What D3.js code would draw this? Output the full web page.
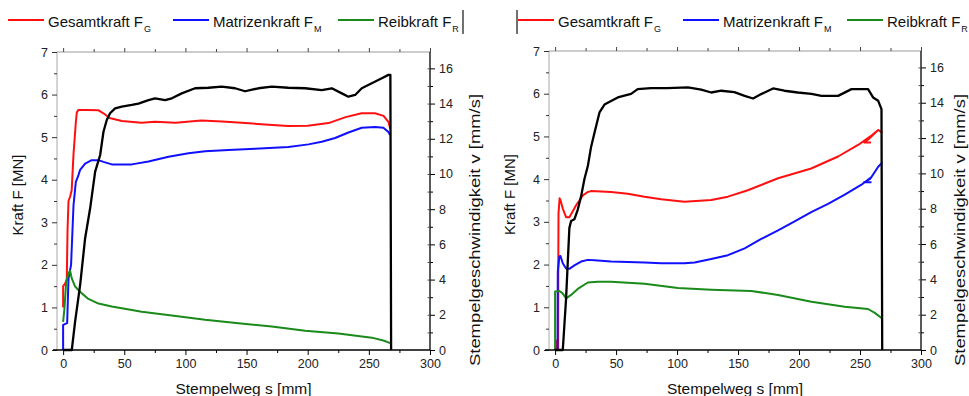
<!DOCTYPE html>
<html>
<head>
<meta charset="utf-8">
<script src="https://cdn.jsdelivr.net/npm/d3@7"></script>
<style>
  html, body { margin: 0; padding: 0; background: #ffffff; }
  svg { display: block; font-family: "Liberation Sans", Arial, sans-serif; }
  .tick text { fill: #222; }
</style>
</head>
<body>
<svg id="chart" width="969" height="396"></svg>
<script>
// Versuch A (links): Stempelweg s [mm] vs. Kraft F [MN]
const gesamtA = [[0,1.0],[0,1.5],[1.5,1.55],[3,1.65],[3.6,2.8],[4.4,3.5],[5.7,3.6],[7,3.75],[8.5,4.6],[10.4,5.35],[11.2,5.58],[12.5,5.64],[20,5.64],[29,5.63],[33,5.56],[38,5.45],[48,5.38],[64,5.34],[75,5.36],[92,5.34],[113,5.39],[130,5.37],[146,5.34],[168,5.29],[184,5.26],[200,5.27],[217,5.33],[231,5.47],[244,5.56],[255,5.56],[262,5.5],[266,5.36],[267.5,5.2]];
const matrizeA = [[0,0],[0,0.59],[3.3,0.63],[4.4,1.68],[6.5,2.0],[8.5,3.4],[10.4,3.95],[12.1,4.07],[13.9,4.23],[18,4.38],[23.4,4.46],[28.9,4.46],[33,4.42],[39.8,4.36],[56.2,4.36],[69.8,4.43],[86.2,4.54],[102.5,4.62],[116.1,4.67],[135.2,4.7],[157,4.73],[184.2,4.77],[200.6,4.83],[211.5,4.89],[222.4,4.98],[233.3,5.11],[244.2,5.22],[255.1,5.24],[261.9,5.22],[266,5.12],[267.4,5.05]];
const reibA = [[0,0.66],[1.1,0.98],[2.5,1.6],[4.4,1.8],[5.7,1.86],[7.1,1.68],[9.8,1.49],[12.5,1.41],[15.3,1.33],[20.7,1.2],[28.9,1.09],[39.8,1.02],[48,0.98],[64.3,0.9],[88.9,0.81],[116.1,0.71],[143.4,0.63],[170.6,0.55],[197.9,0.45],[225.1,0.39],[252.4,0.29],[263.3,0.21],[267.4,0.16]];
// Stempelgeschwindigkeit v [mm/s]
const geschwA = [[0,0],[7.1,0],[9.8,1.61],[13.9,3.69],[18,6.35],[22.1,8.05],[26.2,10.13],[30.3,11.08],[33,12.4],[35.7,13.07],[38.4,13.45],[42.5,13.73],[48,13.83],[56.2,13.92],[61.6,14.0],[69.8,14.2],[75.2,14.3],[83.4,14.2],[88.9,14.3],[97,14.58],[107.9,14.87],[118.8,14.9],[129.7,14.96],[140.6,14.87],[148.8,14.7],[159.7,14.87],[170.6,14.96],[184.2,14.9],[197.9,14.87],[211.5,14.77],[219.7,14.87],[227.9,14.58],[233.3,14.39],[238.8,14.49],[244.2,14.87],[252.4,15.15],[260.6,15.44],[266,15.63],[267.6,15.63],[268.2,0]];

// Versuch B (rechts)
const gesamtB = [[0,0],[1,0.22],[1.8,0],[2.5,0],[2.6,1.9],[2.8,3.2],[3.7,3.55],[4.5,3.5],[6.3,3.31],[9,3.11],[11.7,3.11],[14.5,3.25],[17.2,3.39],[19.9,3.5],[22.7,3.62],[26.8,3.7],[29.5,3.72],[45.9,3.7],[59.6,3.66],[73.3,3.59],[87,3.53],[106,3.47],[128,3.51],[141.7,3.59],[158,3.74],[182.8,4.02],[210,4.25],[232,4.53],[248.4,4.8],[259.4,5.02],[264.9,5.15],[267.6,5.1],[264.9,5.15],[258,4.96],[253.4,4.86],[259,4.86]];
const matrizeB = [[2,0],[2.2,1.83],[3.5,2.19],[4.4,2.2],[6.3,2.03],[9,1.91],[11.7,1.9],[15.8,1.98],[21.3,2.07],[26.8,2.11],[32.3,2.1],[45.9,2.07],[59.6,2.06],[73.3,2.05],[87,2.03],[106,2.03],[114.4,2.05],[128,2.13],[141.7,2.22],[155.4,2.38],[169,2.6],[182.8,2.8],[196.4,3.01],[210,3.23],[223.8,3.42],[237.5,3.64],[251.2,3.87],[259.4,4.05],[264.9,4.29],[267.6,4.37],[264.9,4.29],[259.4,4.05],[258,4.0],[253.4,3.93],[259.4,3.93]];
const reibB = [[0,0],[0,1.37],[3.5,1.38],[6,1.33],[9,1.21],[13.1,1.29],[18.6,1.43],[26.8,1.58],[35,1.6],[45.9,1.6],[73.3,1.55],[100.7,1.45],[128,1.41],[160.9,1.38],[182.8,1.29],[210.2,1.13],[237.5,1.01],[256.6,0.96],[262.1,0.87],[267.6,0.75]];
const geschwB = [[0,0],[6.3,0],[7.6,1.4],[9,2.9],[10.4,5.0],[11.7,6.9],[13.1,7.3],[15.8,7.4],[18.6,7.95],[21.3,8.7],[24.1,9.7],[26.8,10.4],[29.5,11.5],[32.3,12.3],[36.4,13.45],[40.5,13.9],[45.9,14.1],[51.4,14.3],[56.8,14.4],[62.3,14.5],[67.7,14.77],[78.6,14.83],[92,14.83],[108.9,14.87],[119.8,14.74],[128,14.58],[136.2,14.68],[147,14.6],[155.4,14.39],[162.3,14.24],[169,14.49],[178.7,14.81],[188,14.68],[199,14.58],[210.2,14.5],[218.4,14.39],[232,14.39],[243,14.77],[256.6,14.77],[260.7,14.3],[264.9,14.11],[267.6,13.64],[268.2,0]];

// Achsen und Legende
const sTicks = [0, 50, 100, 150, 200, 250, 300];
const sMinor = [25, 75, 125, 175, 225, 275];
const fTicks = [0, 1, 2, 3, 4, 5, 6, 7];
const fMinor = [0.5, 1.5, 2.5, 3.5, 4.5, 5.5, 6.5];
const vTicks = [0, 2, 4, 6, 8, 10, 12, 14, 16];
const vMinor = [1, 3, 5, 7, 9, 11, 13, 15];
const legendNames = ["Gesamtkraft F", "Matrizenkraft F", "Reibkraft F"];
const legendSubs = ["G", "M", "R"];
const seriesColors = ["#ff1010", "#1010ff", "#1a8a1a"];

const svg = d3.select("#chart");

function drawPanel(p, series, speed) {
  const x = d3.scaleLinear().domain([-5, 300]).range([p.x0, p.x1]);
  const yF = d3.scaleLinear().domain([0, 7]).range([p.y1, p.y0]);
  const yV = d3.scaleLinear().domain([0, 16.93]).range([p.y1, p.y0]);
  const g = svg.append("g");

  // top axis (mirror), grey line
  const top = g.append("g").attr("transform", `translate(0,${p.y0})`)
    .call(d3.axisTop(x).tickValues(sTicks).tickSize(4).tickFormat(""));
  g.append("g").attr("transform", `translate(0,${p.y0})`)
    .call(d3.axisTop(x).tickValues(sMinor).tickSize(3).tickFormat(""))
    .select(".domain").remove();
  top.select(".domain").attr("stroke", "#9a9a9a").attr("d", `M${p.x0},0H${p.x1}`);
  g.selectAll("line").attr("stroke", "#444");

  // left axis (force)
  const left = g.append("g").attr("transform", `translate(${p.x0},0)`)
    .call(d3.axisLeft(yF).tickValues(fTicks).tickSize(5).tickPadding(4).tickFormat(d3.format("d")));
  left.select(".domain").attr("stroke", "#a8a8a8").attr("d", `M0,${p.y0}V${p.y1}`);
  left.selectAll(".tick line").attr("stroke", "#333");
  left.selectAll("text").attr("font-size", 12.5).attr("fill", "#222");
  const leftMin = g.append("g").attr("transform", `translate(${p.x0},0)`)
    .call(d3.axisLeft(yF).tickValues(fMinor).tickSize(3).tickFormat(""));
  leftMin.select(".domain").remove();
  leftMin.selectAll("line").attr("stroke", "#333");

  // curves
  const lineF = d3.line().x(d => x(d[0])).y(d => yF(d[1]));
  const lineV = d3.line().x(d => x(d[0])).y(d => yV(d[1]));
  series.forEach((s, i) => {
    g.append("path").datum(s).attr("d", lineF).attr("fill", "none")
      .attr("stroke", seriesColors[i]).attr("stroke-width", 2).attr("stroke-linejoin", "round");
  });
  g.append("path").datum(speed).attr("d", lineV).attr("fill", "none")
    .attr("stroke", "#000").attr("stroke-width", 2.3).attr("stroke-linejoin", "round");

  // bottom axis
  const bottom = g.append("g").attr("transform", `translate(0,${p.y1})`)
    .call(d3.axisBottom(x).tickValues(sTicks).tickSize(5).tickPadding(4).tickFormat(d3.format("d")));
  bottom.select(".domain").attr("stroke", "#000").attr("stroke-width", 1.3).attr("d", `M${p.x0 - 4},0H${p.x1}`);
  bottom.selectAll("line").attr("stroke", "#000");
  bottom.selectAll("text").attr("font-size", 12.5).attr("fill", "#222");
  const bottomMin = g.append("g").attr("transform", `translate(0,${p.y1})`)
    .call(d3.axisBottom(x).tickValues(sMinor).tickSize(3).tickFormat(""));
  bottomMin.select(".domain").remove();
  bottomMin.selectAll("line").attr("stroke", "#000");

  // right axis (speed), ticks crossing the axis line
  const right = g.append("g").attr("transform", `translate(${p.x1},0)`)
    .call(d3.axisRight(yV).tickValues(vTicks).tickSizeInner(5).tickSizeOuter(0).tickPadding(4).tickFormat(d3.format("d")));
  right.select(".domain").attr("stroke", "#000").attr("stroke-width", 1.3).attr("d", `M0,${p.y0}V${p.y1}`);
  right.selectAll("line").attr("stroke", "#000");
  right.selectAll("text").attr("font-size", 12.5).attr("fill", "#222");
  const rightMin = g.append("g").attr("transform", `translate(${p.x1},0)`)
    .call(d3.axisRight(yV).tickValues(vMinor).tickSize(3).tickFormat(""));
  rightMin.select(".domain").remove();
  rightMin.selectAll("line").attr("stroke", "#000");
  const rightIn = g.append("g").attr("transform", `translate(${p.x1},0)`)
    .call(d3.axisRight(yV).tickValues(vTicks.concat(vMinor).filter(v => v > 0)).tickSize(-2.5).tickFormat(""));
  rightIn.select(".domain").remove();
  rightIn.selectAll("line").attr("stroke", "#555");

  // axis titles
  g.append("text").attr("x", (p.x0 + p.x1) / 2).attr("y", 394)
    .attr("text-anchor", "middle").attr("font-size", 15.5).attr("fill", "#111")
    .text("Stempelweg s [mm]");
  g.append("text").attr("transform", `translate(${p.x0 - 34},${(p.y0 + p.y1) / 2 - 6}) rotate(-90)`)
    .attr("text-anchor", "middle").attr("font-size", 15).attr("fill", "#111")
    .text("Kraft F [MN]");
  g.append("text").attr("transform", `translate(${p.vlabelX},${p.vlabelY}) rotate(-90)`)
    .attr("text-anchor", "middle").attr("font-size", 15).attr("fill", "#111")
    .attr("textLength", 272).attr("lengthAdjust", "spacingAndGlyphs")
    .text("Stempelgeschwindigkeit v [mm/s]");

  // legend
  p.legend.forEach((lx, i) => {
    g.append("line").attr("x1", lx).attr("x2", lx + 36).attr("y1", 20).attr("y2", 20)
      .attr("stroke", seriesColors[i]).attr("stroke-width", 2);
    const t = g.append("text").attr("x", lx + 40).attr("y", 26.5)
      .attr("font-size", 15).attr("fill", "#111").text(legendNames[i]);
    t.append("tspan").attr("font-size", 9).attr("dy", 5).attr("dx", 1).text(legendSubs[i]);
  });
  g.append("line").attr("x1", p.bar).attr("x2", p.bar).attr("y1", 10).attr("y2", 34)
    .attr("stroke", "#111").attr("stroke-width", 1.2);
}

drawPanel({x0: 57, x1: 430, y0: 52, y1: 350, vlabelX: 480, vlabelY: 230, legend: [8, 173, 338], bar: 463},
  [gesamtA, matrizeA, reibA], geschwA);
drawPanel({x0: 549, x1: 921, y0: 51, y1: 350, vlabelX: 965, vlabelY: 230, legend: [518, 683, 847], bar: 517},
  [gesamtB, matrizeB, reibB], geschwB);
</script>
</body>
</html>
